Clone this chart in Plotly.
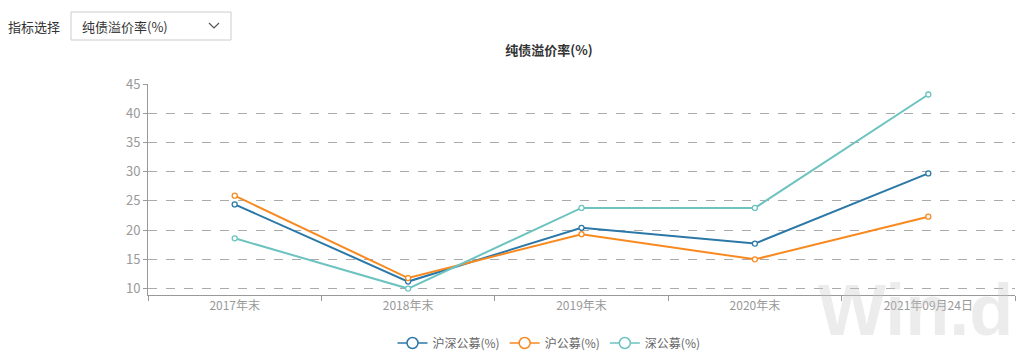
import plotly.graph_objects as go

categories = ["2017年末", "2018年末", "2019年末", "2020年末", "2021年09月24日"]
hushen = [24.4, 11.2, 20.4, 17.7, 29.7]
hu = [25.9, 11.8, 19.3, 15.0, 22.3]
shen = [18.6, 10.0, 23.8, 23.8, 43.2]
series_names = ["沪深公募(%)", "沪公募(%)", "深公募(%)"]
colors = ["#2b78a8", "#f8891f", "#6cc3bf"]

FONT = "Noto Sans CJK SC, Microsoft YaHei, sans-serif"

W, H = 1020, 354
L, R, T, B = 148, 1015, 84, 295


def px(x):
    return (x - L) / (R - L)


def py(y):
    return (B - y) / (B - T)


fig = go.Figure()
for name, vals, c in zip(series_names, [hushen, hu, shen], colors):
    fig.add_trace(go.Scatter(
        x=categories, y=vals, mode="lines+markers", name=name,
        line=dict(color=c, width=2),
        marker=dict(size=5, color="white", line=dict(color=c, width=1.3)),
        showlegend=False,
    ))
for name, c in zip(series_names, colors):
    fig.add_trace(go.Scatter(
        x=[None], y=[None], mode="lines+markers", name=name,
        line=dict(color=c, width=1.5),
        marker=dict(size=11, color="white", line=dict(color=c, width=1.5)),
        showlegend=True,
    ))

fig.update_layout(
    width=W, height=H, autosize=False,
    margin=dict(l=L, r=W - R, t=T, b=H - B, autoexpand=False),
    paper_bgcolor="white", plot_bgcolor="white",
    font=dict(family=FONT, size=12, color="#999999"),
    title=dict(text="<b>纯债溢价率(%)</b>", x=549 / W, xanchor="center",
               y=1 - 50 / H, yanchor="middle", xref="container", yref="container",
               font=dict(family=FONT, size=13, color="#333333")),
    legend=dict(orientation="h", x=549 / W, xref="container", xanchor="center",
                y=1 - 343 / H, yref="container", yanchor="middle",
                font=dict(family=FONT, size=12, color="#666666"),
                itemwidth=30, tracegroupgap=0),
    xaxis=dict(
        type="category", range=[-0.5, 4.5], showgrid=False,
        showline=True, linecolor="#999999", linewidth=1,
        ticks="outside", tickson="boundaries", ticklen=5, tickcolor="#999999",
        tickfont=dict(family=FONT, size=12, color="#999999"),
        zeroline=False,
    ),
    yaxis=dict(
        range=[8.9, 45], tickvals=[10, 15, 20, 25, 30, 35, 40, 45],
        showgrid=True, gridcolor="#aaaaaa", griddash="dash", gridwidth=1,
        showline=True, linecolor="#999999", linewidth=1,
        ticks="outside", ticklen=4, tickcolor="#999999",
        tickfont=dict(family=FONT, size=13, color="#999999"),
        zeroline=False,
    ),
)

# Watermark (drawn first so axis labels stay readable)
fig.add_annotation(text="<b>Win.d</b>", x=px(1015), y=py(352), xref="paper", yref="paper",
                   xanchor="right", yanchor="bottom", showarrow=False,
                   font=dict(family="Liberation Sans, Arial, sans-serif", size=72,
                             color="rgba(200,200,200,0.35)"))

# Dropdown-like control (static)
fig.add_annotation(text="指标选择", x=px(6), y=py(26), xref="paper", yref="paper",
                   xanchor="left", yanchor="middle", showarrow=False,
                   font=dict(family=FONT, size=13, color="#333333"))
fig.add_shape(type="rect", xref="paper", yref="paper",
              x0=px(71), x1=px(231), y0=py(40), y1=py(12),
              line=dict(color="#cccccc", width=1), fillcolor="white")
fig.add_annotation(text="纯债溢价率(%)", x=px(80), y=py(26), xref="paper", yref="paper",
                   xanchor="left", yanchor="middle", showarrow=False,
                   font=dict(family=FONT, size=13, color="#333333"))
fig.add_shape(type="path", xref="paper", yref="paper",
              path=f"M {px(209)},{py(23)} L {px(214)},{py(28)} L {px(219)},{py(23)}",
              line=dict(color="#555555", width=1.2))

fig.write_html("out.html")
